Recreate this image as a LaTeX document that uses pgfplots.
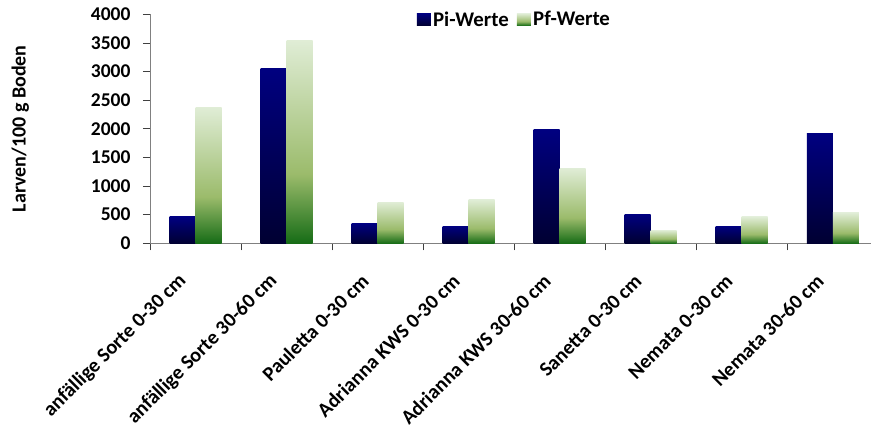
\documentclass[border=0pt]{standalone}
\usepackage{pgfplots}
\pgfplotsset{compat=1.18}
\usepackage{fontspec}
\setmainfont{Carlito}
\definecolor{pitop}{RGB}{0,0,128}
\definecolor{pibot}{RGB}{0,0,50}
\definecolor{pftop}{RGB}{224,237,214}
\definecolor{pfmid}{RGB}{155,187,107}
\definecolor{pfbot}{RGB}{22,108,22}
\pgfdeclareverticalshading{pishade}{100bp}{color(0bp)=(pibot); color(25bp)=(pibot); color(75bp)=(pitop); color(100bp)=(pitop)}
\pgfdeclareverticalshading{pfshade}{100bp}{color(0bp)=(pfbot); color(25bp)=(pfbot); color(42bp)=(pfmid); color(75bp)=(pftop); color(100bp)=(pftop)}
\pgfplotsset{
  pibar/.style={ybar, bar shift=-13pt, draw=none, shade, shading=pishade},
  pfbar/.style={ybar, bar shift=13pt, draw=none, shade, shading=pfshade},
}
\begin{document}
\begin{tikzpicture}
\path[use as bounding box] (0,0) rectangle (871pt,425pt);
\begin{axis}[
  at={(150pt,181.7pt)}, anchor=south west,
  scale only axis, width=721pt, height=229pt,
  xmin=-0.5, xmax=7.42, ymin=0, ymax=4000,
  axis lines=left, axis line style={-, draw=gray, line width=0.8pt},
  bar width=26pt,
  xtick={-0.5,0.5,...,6.5}, xticklabels={},
  extra x ticks={0,1,2,3,4,5,6,7},
  extra x tick labels={anfällige Sorte 0-30 cm, anfällige Sorte 30-60 cm, Pauletta 0-30 cm, Adrianna KWS 0-30 cm, Adrianna KWS 30-60 cm, Sanetta 0-30 cm, Nemata 0-30 cm, Nemata 30-60 cm},
  extra x tick style={major tick length=0pt},
  xticklabel style={font=\fontsize{20.3}{24}\selectfont\bfseries, xshift=-10pt, yshift=-32pt, rotate=45, anchor=east},
  ytick={0,500,...,4000},
  yticklabel style={font=\fontsize{19.5}{22}\selectfont\bfseries, xshift=-9pt},
  /pgf/number format/1000 sep={},
  /pgf/number format/assume math mode=true,
  tick align=outside, major tick length=7pt,
  tick style={draw=black!75, line width=0.8pt},
  ylabel={Larven/100 g Boden},
  every axis y label/.style={at={(axis description cs:-0.163,0.5)}, rotate=90, anchor=south, font=\fontsize{20}{24}\selectfont\bfseries},
  legend columns=2,
  legend style={at={(axis description cs:0.370,0.9773)}, anchor=west, draw=none, fill=none, inner sep=0pt,
    font=\fontsize{20.8}{24}\selectfont\bfseries, nodes={inner sep=2.2pt},
    /tikz/every even column/.append style={column sep=6pt}},
  legend image code/.code={\path[#1] (0pt,-6pt) rectangle (14pt,6pt);},
]
\addplot[pibar] coordinates {(0,460)};
\addplot[pfbar] coordinates {(0,2380)};
\addplot[pibar, forget plot] coordinates {(1,3060)};
\addplot[pibar, forget plot] coordinates {(2,340)};
\addplot[pibar, forget plot] coordinates {(3,300)};
\addplot[pibar, forget plot] coordinates {(4,1980)};
\addplot[pibar, forget plot] coordinates {(5,510)};
\addplot[pibar, forget plot] coordinates {(6,300)};
\addplot[pibar, forget plot] coordinates {(7,1910)};
\addplot[pfbar, forget plot] coordinates {(1,3550)};
\addplot[pfbar, forget plot] coordinates {(2,720)};
\addplot[pfbar, forget plot] coordinates {(3,760)};
\addplot[pfbar, forget plot] coordinates {(4,1310)};
\addplot[pfbar, forget plot] coordinates {(5,230)};
\addplot[pfbar, forget plot] coordinates {(6,460)};
\addplot[pfbar, forget plot] coordinates {(7,530)};
\legend{Pi-Werte, Pf-Werte}
\end{axis}
\end{tikzpicture}
\end{document}
